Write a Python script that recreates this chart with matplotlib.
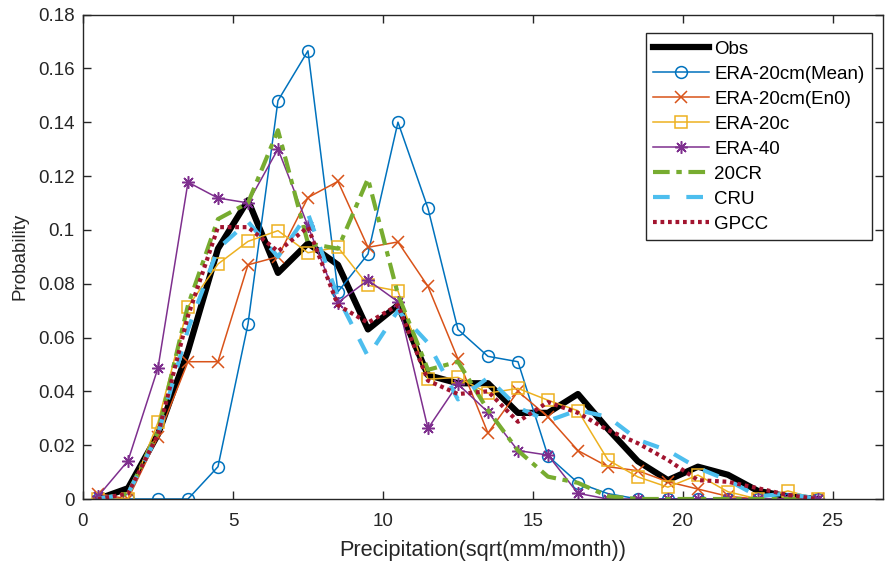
import numpy as np
import matplotlib
matplotlib.use('Agg')
import matplotlib.pyplot as plt

plt.rcParams['font.family'] = ['Liberation Sans', 'DejaVu Sans']

# bin centres, sqrt(mm/month)
x = np.arange(0.5, 25, 1.0)

obs = [0, 0.004, 0.024, 0.055, 0.093, 0.111, 0.084, 0.095, 0.087, 0.063,
       0.072, 0.046, 0.043, 0.043, 0.032, 0.032, 0.039, 0.026, 0.014, 0.007,
       0.012, 0.009, 0.003, 0.001, 0]
era20cm_mean = [0, 0, 0, 0, 0.012, 0.065, 0.148, 0.1665, 0.077, 0.091,
                0.140, 0.108, 0.063, 0.053, 0.051, 0.016, 0.006, 0.002, 0, 0,
                0, 0, 0, 0, 0]
era20cm_en0 = [0.002, 0, 0.023, 0.051, 0.051, 0.087, 0.090, 0.112, 0.118, 0.0935,
               0.0955, 0.079, 0.052, 0.0245, 0.040, 0.0305, 0.018, 0.012, 0.0105, 0.0064,
               0.0037, 0.001, 0, 0, 0]
era20c = [0, 0, 0.0285, 0.0715, 0.0873, 0.0957, 0.0997, 0.0915, 0.0935, 0.0794,
          0.0773, 0.0445, 0.0452, 0.0393, 0.0411, 0.0367, 0.0328, 0.0145, 0.0082, 0.0044,
          0.0089, 0.0027, 0, 0.003, 0]
era40 = [0.001, 0.0142, 0.0487, 0.1177, 0.1118, 0.110, 0.130, 0.1014, 0.073, 0.0813,
         0.0733, 0.0262, 0.0427, 0.0323, 0.018, 0.0163, 0.0021, 0, 0, 0,
         0, 0, 0, 0, 0]
cr20 = [0, 0.002, 0.025, 0.072, 0.104, 0.110, 0.137, 0.095, 0.093, 0.119,
        0.076, 0.048, 0.051, 0.033, 0.018, 0.0083, 0.006, 0.001, 0, 0,
        0, 0, 0, 0, 0]
cru = [0, 0.002, 0.024, 0.063, 0.093, 0.103, 0.090, 0.106, 0.075, 0.053,
       0.070, 0.058, 0.037, 0.045, 0.034, 0.029, 0.033, 0.0305, 0.022, 0.018,
       0.0115, 0.007, 0.001, 0.002, 0]
gpcc = [0, 0.002, 0.024, 0.068, 0.101, 0.101, 0.092, 0.101, 0.072, 0.0655,
        0.072, 0.044, 0.039, 0.040, 0.0287, 0.036, 0.032, 0.0256, 0.0207, 0.0145,
        0.007, 0.0064, 0.004, 0.0015, 0]

fig = plt.figure(figsize=(8.85, 5.67), dpi=100)
ax = fig.add_axes([83/885, 68/567, 800/885, 484.5/567])

ax.plot(x, obs, color='k', linewidth=4.5, label='Obs')
ax.plot(x, era20cm_mean, color='#0072BD', linewidth=1.1, marker='o', markersize=8.5,
        markerfacecolor='none', markeredgewidth=1.1, label='ERA-20cm(Mean)')
ax.plot(x, era20cm_en0, color='#D95319', linewidth=1.1, marker='x', markersize=8,
        markeredgewidth=1.1, label='ERA-20cm(En0)')
ax.plot(x, era20c, color='#EDB120', linewidth=1.1, marker='s', markersize=8,
        markerfacecolor='none', markeredgewidth=1.1, label='ERA-20c')
# asterisk marker (8 spokes)
ax.plot(x, era40, color='#7E2F8E', linewidth=1.1, marker=(8, 2, 0), markersize=9,
        markeredgewidth=1.1, label='ERA-40')
ax.plot(x, cr20, color='#77AC30', linewidth=3, dashes=(4, 1.6, 1.3, 1.6), label='20CR')
ax.plot(x, cru, color='#4DBEEE', linewidth=3, dashes=(4, 4), label='CRU')
ax.plot(x, gpcc, color='#A2142F', linewidth=3, dashes=(0.9, 0.9), label='GPCC')

ax.set_xlim(0, 26.67)
ax.set_ylim(0, 0.18)
ax.set_xticks([0, 5, 10, 15, 20, 25])
ax.set_yticks(np.arange(0, 0.181, 0.02))
ax.set_yticklabels(['0', '0.02', '0.04', '0.06', '0.08', '0.1', '0.12', '0.14', '0.16', '0.18'])
ax.tick_params(direction='in', top=True, right=True, length=6, width=1,
               color='#262626', labelsize=13.5, labelcolor='#262626')
ax.tick_params(axis='x', pad=10)
ax.tick_params(axis='y', pad=6)
for sp in ax.spines.values():
    sp.set_color('#262626')
    sp.set_linewidth(1)

ax.set_xlabel('Precipitation(sqrt(mm/month))', fontsize=15.7, color='#262626', labelpad=7)
ax.set_ylabel('Probability', fontsize=13.5, color='#262626', labelpad=7)

leg = ax.legend(loc='upper right', bbox_to_anchor=(0.986, 0.962), borderaxespad=0,
                fontsize=13.5, handlelength=3.0, handletextpad=0.25, labelspacing=0.42,
                fancybox=False, framealpha=1, borderpad=0.4)
leg.get_frame().set_edgecolor('#262626')
leg.get_frame().set_linewidth(1)

plt.savefig('out.png', dpi=100)
plt.close()
